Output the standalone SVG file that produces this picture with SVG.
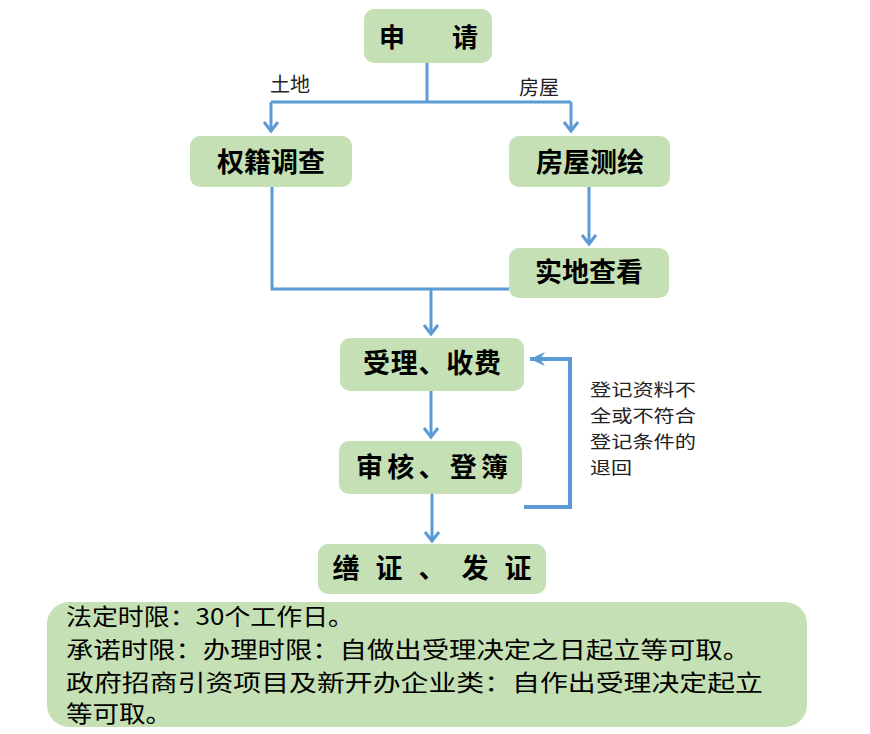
<svg xmlns="http://www.w3.org/2000/svg" width="870" height="734" viewBox="0 0 870 734">
<style>
.box{fill:#C5E0B4;}
.lbl{font-family:"Noto Sans CJK SC","Liberation Serif",sans-serif;font-weight:bold;font-size:27px;fill:#000;text-anchor:middle;}
.note{font-family:"Noto Sans CJK SC","Liberation Sans",sans-serif;font-size:20px;fill:#222;}
.side{font-family:"Noto Sans CJK SC","Liberation Sans",sans-serif;font-size:17.5px;fill:#222;}
.big{font-family:"Noto Sans CJK SC","Liberation Sans",sans-serif;font-size:23px;fill:#000;}
.c{fill:none;stroke:#5B9BD5;stroke-width:3;}
</style>
<defs>
<marker id="v" markerUnits="userSpaceOnUse" markerWidth="24" markerHeight="24" viewBox="-12 -12 24 24" refX="0" refY="0" orient="auto">
<path d="M-9,-7 L0,0 L-9,7" fill="none" stroke="#5B9BD5" stroke-width="3" stroke-linejoin="miter"/>
</marker>
<marker id="s" markerUnits="userSpaceOnUse" markerWidth="24" markerHeight="24" viewBox="-16 -12 24 24" refX="0" refY="0" orient="auto">
<path d="M0,0 L-15,-7 L-10,0 L-15,7 Z" fill="#5B9BD5"/>
</marker>
</defs>
<rect width="870" height="734" fill="#fff"/>
<g id="connectors">
<path class="c" d="M427,63 V102"/>
<path class="c" d="M271,102 H571"/>
<path class="c" d="M271,102 V131" marker-end="url(#v)"/>
<path class="c" d="M571,102 V131" marker-end="url(#v)"/>
<path class="c" d="M589,187 V244" marker-end="url(#v)"/>
<path class="c" d="M272,187 V289 H509"/>
<path class="c" d="M431,289 V334" marker-end="url(#v)"/>
<path class="c" d="M431,391 V437" marker-end="url(#v)"/>
<path class="c" d="M432,494 V541" marker-end="url(#v)"/>
<path class="c" style="stroke-width:4" d="M524,507 H570 V359 H530" marker-end="url(#s)"/>
<text class="note" x="270" y="92">土地</text>
<text class="note" x="519" y="95">房屋</text>
<text class="side" x="590" y="396" textLength="106" lengthAdjust="spacingAndGlyphs">登记资料不</text>
<text class="side" x="590" y="422" textLength="106" lengthAdjust="spacingAndGlyphs">全或不符合</text>
<text class="side" x="590" y="448" textLength="106" lengthAdjust="spacingAndGlyphs">登记条件的</text>
<text class="side" x="590" y="474" textLength="42" lengthAdjust="spacingAndGlyphs">退回</text>
</g>
<g id="n-apply">
<rect class="box" x="364" y="9" width="128" height="54" rx="10"/>
<text class="lbl" style="font-size:26px"><tspan x="392" y="47">申</tspan><tspan x="465" y="47">请</tspan></text>
</g>
<g id="n-survey">
<rect class="box" x="190" y="136" width="162" height="51" rx="10"/>
<text class="lbl" x="271" y="172">权籍调查</text>
</g>
<g id="n-mapping">
<rect class="box" x="509" y="136" width="161" height="51" rx="10"/>
<text class="lbl" x="590" y="172">房屋测绘</text>
</g>
<g id="n-inspect">
<rect class="box" x="509" y="248" width="160" height="50" rx="10"/>
<text class="lbl" x="589" y="282">实地查看</text>
</g>
<g id="n-accept">
<rect class="box" x="340" y="338" width="184" height="53" rx="10"/>
<text class="lbl" x="432" y="373" textLength="138" lengthAdjust="spacing">受理、收费</text>
</g>
<g id="n-review">
<rect class="box" x="339" y="441" width="183" height="53" rx="10"/>
<text class="lbl" x="432" y="477" textLength="152" lengthAdjust="spacing">审核、登簿</text>
</g>
<g id="n-issue">
<rect class="box" x="318" y="544" width="228" height="50" rx="10"/>
<text class="lbl" x="432" y="578" textLength="199" lengthAdjust="spacing">缮证、发证</text>
</g>
<g id="n-limits">
<rect class="box" x="47" y="602" width="760" height="125" rx="22"/>
<text class="big" x="66" y="625" textLength="288" lengthAdjust="spacingAndGlyphs">法定时限：30个工作日。</text>
<text class="big" x="66" y="658" textLength="684" lengthAdjust="spacingAndGlyphs">承诺时限：办理时限：自做出受理决定之日起立等可取。</text>
<text class="big" x="66" y="691" textLength="697" lengthAdjust="spacingAndGlyphs">政府招商引资项目及新开办企业类：自作出受理决定起立</text>
<text class="big" x="66" y="722" textLength="106" lengthAdjust="spacingAndGlyphs">等可取。</text>
</g>
</svg>
